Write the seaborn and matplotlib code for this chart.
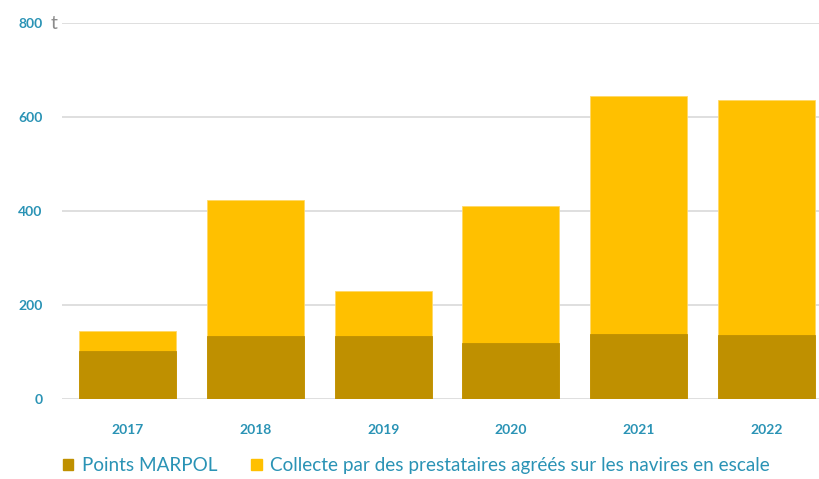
import matplotlib
matplotlib.use("Agg")
import matplotlib.pyplot as plt
import seaborn as sns
import pandas as pd
from matplotlib.patches import Patch

# data (tonnes)
years = ["2017", "2018", "2019", "2020", "2021", "2022"]
marpol = [103, 135, 135, 119, 140, 136]
collecte = [43, 290, 95, 292, 505, 500]
yticks = [0, 200, 400, 600, 800]

teal = "#2A93B5"
dark_gold = "#BF9000"
yellow = "#FFC000"

sns.set_theme(style="white")
plt.rcParams["font.family"] = ["Lato", "DejaVu Sans"]

df = pd.DataFrame({"year": years, "marpol": marpol, "collecte": collecte})
df["total"] = df["marpol"] + df["collecte"]

fig = plt.figure(figsize=(8.2, 4.79), dpi=100)
ax = fig.add_axes([62 / 820, 79.7 / 479, 758 / 820, 376 / 479])

# stacked bars: total in yellow first, marpol on top of it
sns.barplot(data=df, x="year", y="total", color=yellow, width=0.76,
            saturation=1, ax=ax, zorder=2, edgecolor="#FFD966", linewidth=0.6)
sns.barplot(data=df, x="year", y="marpol", color=dark_gold, width=0.76,
            saturation=1, ax=ax, zorder=3, edgecolor=dark_gold, linewidth=0.6)

ax.set_xlim(-0.515, 5.42)
ax.set_ylim(0, 800)
ax.set_yticks(yticks)
ax.set_yticklabels([str(v) for v in yticks])
ax.yaxis.grid(True, color="#D9D9D9", linewidth=1.2, zorder=0)
ax.set_axisbelow(True)
for s in ax.spines.values():
    s.set_visible(False)
ax.tick_params(axis="y", length=0, pad=14, labelsize=10, labelcolor=teal)
ax.tick_params(axis="x", length=0, pad=18, labelsize=10, labelcolor=teal)
for lab in ax.get_xticklabels() + ax.get_yticklabels():
    lab.set_fontweight("bold")
ax.set_xlabel("")
ax.set_ylabel("")

# unit next to top tick
fig.text(51 / 820, 1 - 23.5 / 479, "t", color="#8C8C8C", fontsize=14,
         va="center", ha="left")

handles = [Patch(color=dark_gold, label="Points MARPOL"),
           Patch(color=yellow, label="Collecte par des prestataires agréés sur les navires en escale")]
fig.legend(handles=handles, loc="lower left", bbox_to_anchor=(46 / 820, -0.025),
           ncol=2, frameon=False, fontsize=13.6, labelcolor=teal,
           handlelength=0.55, handleheight=0.55, handletextpad=0.45, columnspacing=1.8)

fig.savefig("out.png", dpi=100)
